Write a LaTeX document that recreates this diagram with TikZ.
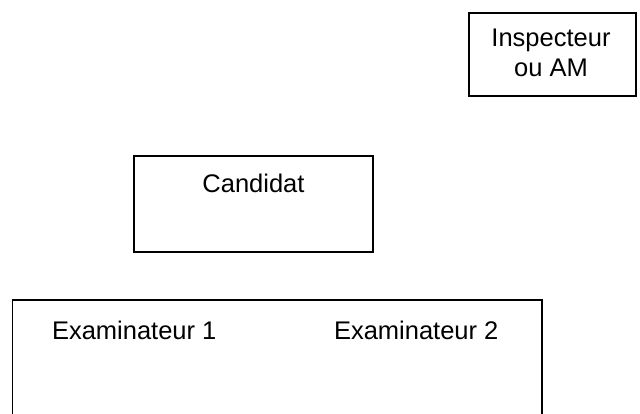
\documentclass[tikz,border=0pt]{standalone}
\usepackage{fontspec}
\setmainfont{Liberation Sans}
\begin{document}
\begin{tikzpicture}[x=1pt,y=-1pt,
  boxline/.style={draw=black,line width=1.3pt},
  txt/.style={inner sep=0pt,outer sep=0pt,font=\fontsize{25.5}{30}\selectfont,anchor=base}]
\clip (0,0) rectangle (640,414);
\fill[white] (0,0) rectangle (640,414);
% Inspecteur box
\draw[boxline] (469,13) rectangle (636,96);
\coordinate (inspc) at (551,0);
\node[txt] (insp1) at (551,47) {Inspecteur};
\node[txt] (insp2) at (551,77) {ou AM};
% Candidat box
\draw[boxline] (134,156) rectangle (373,252);
\node[txt] (cand) at (253.5,193) {Candidat};
% Examinateurs box
\draw[boxline] (12.7,300) rectangle (542,440);
\node[txt,anchor=base west] (ex1) at (52,339) {Examinateur 1};
\node[txt,anchor=base west] (ex2) at (334,339) {Examinateur 2};
\end{tikzpicture}
\end{document}
